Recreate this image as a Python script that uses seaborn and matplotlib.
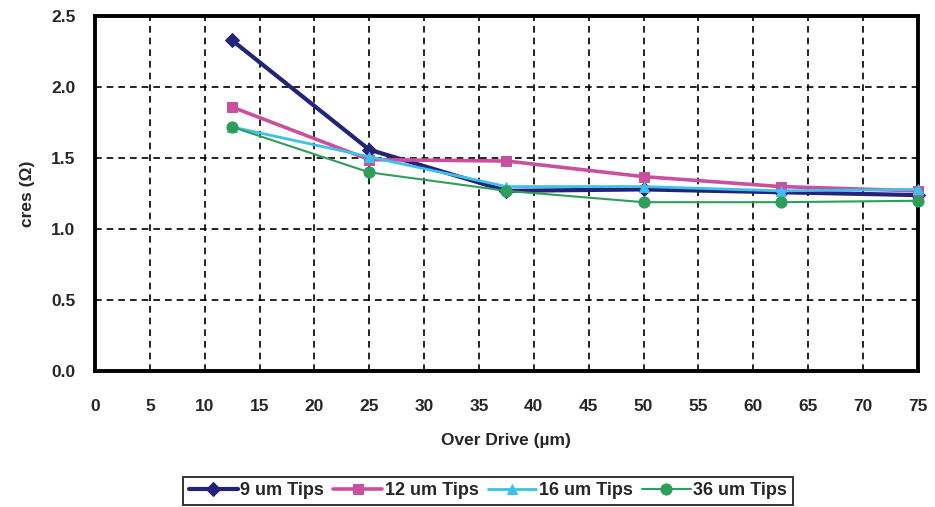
import matplotlib
matplotlib.use("Agg")
import matplotlib.pyplot as plt
import seaborn as sns
import pandas as pd

# Contact resistance versus over drive for four probe tip sizes
over_drive = [12.5, 25, 37.5, 50, 62.5, 75]
tips_9um = [2.33, 1.56, 1.27, 1.28, 1.26, 1.24]
tips_12um = [1.86, 1.49, 1.48, 1.37, 1.30, 1.27]
tips_16um = [1.72, 1.51, 1.30, 1.30, 1.27, 1.28]
tips_36um = [1.72, 1.40, 1.27, 1.19, 1.19, 1.20]

series_names = ["9 um Tips", "12 um Tips", "16 um Tips", "36 um Tips"]
series_values = [tips_9um, tips_12um, tips_16um, tips_36um]
x_ticks = list(range(0, 80, 5))
y_ticks = [0.0, 0.5, 1.0, 1.5, 2.0, 2.5]

frames = []
for name, vals in zip(series_names, series_values):
    frames.append(pd.DataFrame({"Over Drive": over_drive, "cres": vals, "Tips": name}))
df = pd.concat(frames, ignore_index=True)

sns.set_theme(style="white")
plt.rcParams["font.family"] = ["Liberation Sans", "DejaVu Sans"]
plt.rcParams["font.weight"] = "bold"

fig = plt.figure(figsize=(9.35, 5.07), dpi=100)
ax = fig.add_axes([0.1016, 0.268, 0.880, 0.700])

palette = {"9 um Tips": "#23237a", "12 um Tips": "#c9509f",
           "16 um Tips": "#3ec0ec", "36 um Tips": "#2e9e5a"}
markers = {"9 um Tips": "D", "12 um Tips": "s", "16 um Tips": "^", "36 um Tips": "o"}
widths = {"9 um Tips": 3.0, "12 um Tips": 2.6, "16 um Tips": 2.0, "36 um Tips": 1.5}
msizes = {"9 um Tips": 7, "12 um Tips": 7, "16 um Tips": 7, "36 um Tips": 8}

# dashed grid under the data
ax.set_axisbelow(True)
ax.grid(True, which="major", color="black", linestyle=(0, (4, 3)), linewidth=1.2)

for name in series_names:
    sub = df[df["Tips"] == name]
    sns.lineplot(data=sub, x="Over Drive", y="cres", ax=ax, color=palette[name],
                 marker=markers[name], markersize=msizes[name], linewidth=widths[name],
                 markeredgecolor=palette[name], label=name, zorder=3,
                 clip_on=False)

ax.set_xlim(0, 75)
ax.set_ylim(0, 2.5)
ax.set_xticks(x_ticks)
ax.set_yticks(y_ticks)
ax.set_xticklabels([str(t) for t in x_ticks], fontsize=12.5, fontweight="bold")
ax.set_yticklabels([f"{t:.1f}" for t in y_ticks], fontsize=12.5, fontweight="bold")
ax.tick_params(axis="x", direction="inout", length=8, width=1.2, color="black", pad=16)
ax.tick_params(axis="y", direction="out", length=0, pad=14)

for spine in ax.spines.values():
    spine.set_visible(True)
    spine.set_color("black")
    spine.set_linewidth(2.8)

ax.set_xlabel("Over Drive (µm)", fontsize=12.5, fontweight="bold", labelpad=14)
ax.set_ylabel("cres (Ω)", fontsize=12.5, fontweight="bold", labelpad=12)

ax.legend_.remove()
handles, labels = ax.get_legend_handles_labels()
leg = fig.legend(handles, labels, loc="center", bbox_to_anchor=(0.522, 0.032), ncol=4,
                 frameon=True, fancybox=False, handlelength=2.7, handletextpad=0.15,
                 columnspacing=0.5, borderpad=0.3, prop={"size": 13, "weight": "bold"})
leg.get_frame().set_edgecolor("black")
leg.get_frame().set_linewidth(1.4)

fig.savefig("out.png", dpi=100, facecolor="white")
